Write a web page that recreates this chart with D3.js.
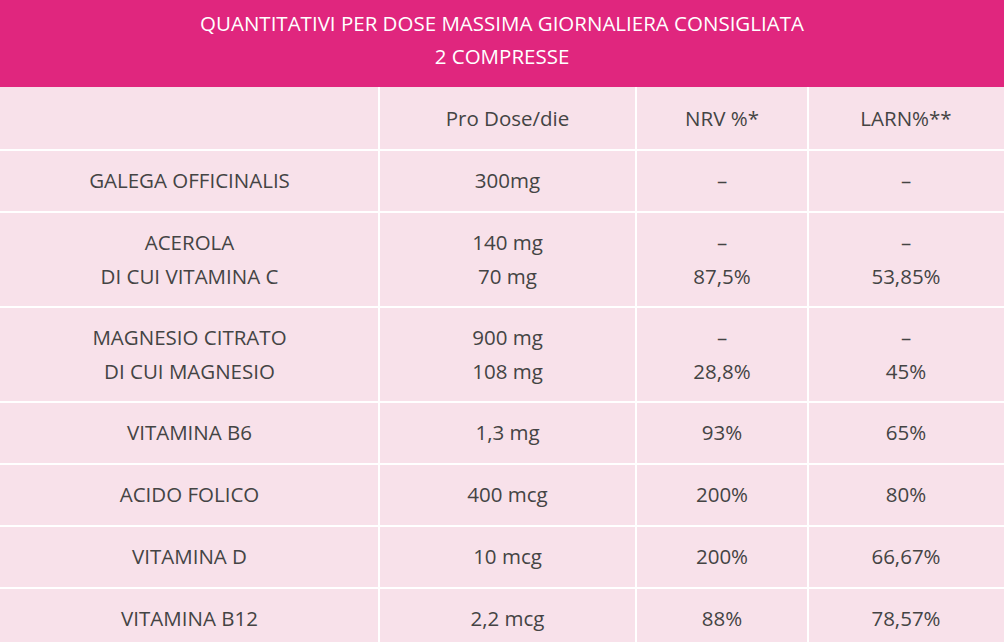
<!DOCTYPE html>
<html><head><meta charset="utf-8">
<script src="https://cdn.jsdelivr.net/npm/d3@7"></script>
<style>body{margin:0;background:#f8e1ea}</style>
</head><body><svg></svg>
<script>
const width = 1004;
const height = 642;

const titleLines = ['QUANTITATIVI PER DOSE MASSIMA GIORNALIERA CONSIGLIATA', '2 COMPRESSE'];
const headers = ['', 'Pro Dose/die', 'NRV %*', 'LARN%**'];
const names = [['GALEGA OFFICINALIS'], ['ACEROLA', 'DI CUI VITAMINA C'], ['MAGNESIO CITRATO', 'DI CUI MAGNESIO'],
	['VITAMINA B6'], ['ACIDO FOLICO'], ['VITAMINA D'], ['VITAMINA B12']];
const doses = [['300mg'], ['140 mg', '70 mg'], ['900 mg', '108 mg'], ['1,3 mg'], ['400 mcg'], ['10 mcg'], ['2,2 mcg']];
const nrv = [['–'], ['–', '87,5%'], ['–', '28,8%'], ['93%'], ['200%'], ['200%'], ['88%']];
const larn = [['–'], ['–', '53,85%'], ['–', '45%'], ['65%'], ['80%'], ['66,67%'], ['78,57%']];

const colEdges = [0, 379, 636, 808, 1004];
const rowHeights = [63, 62, 95, 95, 62, 62, 62, 62];

const svg = d3.select('svg').attr('width', width).attr('height', height);

svg.append('rect').attr('width', width).attr('height', height).attr('fill', '#f8e1ea');
svg.append('rect').attr('width', width).attr('height', 87).attr('fill', '#e0267e');
svg.selectAll('text.title').data(titleLines).enter().append('text')
	.attr('x', width / 2).attr('y', (d, i) => 31 + i * 33)
	.attr('text-anchor', 'middle').attr('fill', '#fff')
	.attr('font-family', 'Open Sans').attr('font-size', 20.5).text(d => d);

const rows = [headers.map(h => [h])].concat(names.map((n, i) => [n, doses[i], nrv[i], larn[i]]));
let y = 87;
const rowTops = rowHeights.map(h => { const t = y; y += h; return t; });

const g = svg.append('g');
rows.forEach((row, r) => {
	row.forEach((lines, c) => {
		const cx = (colEdges[c] + colEdges[c + 1]) / 2;
		const cy = rowTops[r] + rowHeights[r] / 2;
		g.selectAll(null).data(lines).enter().append('text')
			.attr('x', cx)
			.attr('y', (d, i) => cy + (i - (lines.length - 1) / 2) * 34 + 7)
			.attr('text-anchor', 'middle').attr('fill', '#444')
			.attr('font-family', 'Open Sans').attr('font-size', 20.5)
			.text(d => d);
	});
});

svg.selectAll('line.h').data(rowTops.slice(1)).enter().append('line')
	.attr('x1', 0).attr('x2', width).attr('y1', d => d).attr('y2', d => d)
	.attr('stroke', '#fff').attr('stroke-width', 2);
svg.selectAll('line.v').data(colEdges.slice(1, 4)).enter().append('line')
	.attr('x1', d => d).attr('x2', d => d).attr('y1', 87).attr('y2', height)
	.attr('stroke', '#fff').attr('stroke-width', 2);
</script></body></html>
